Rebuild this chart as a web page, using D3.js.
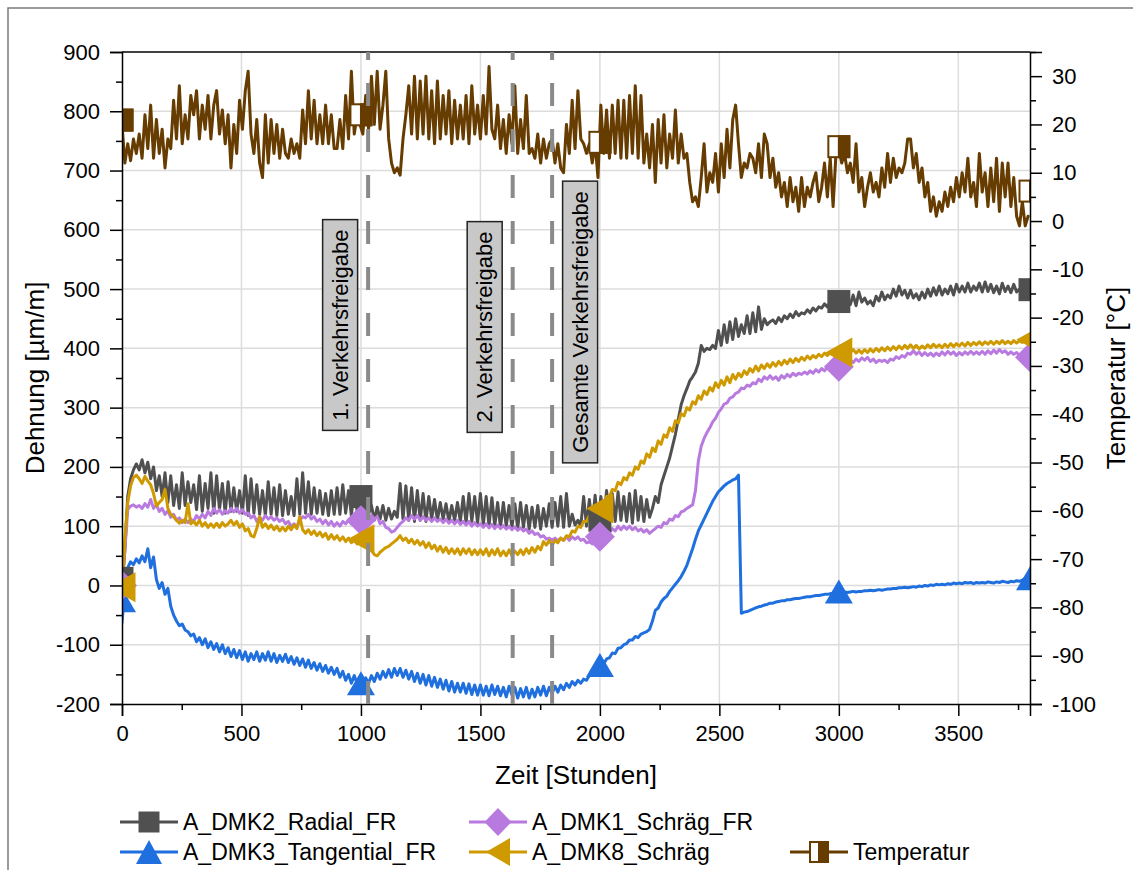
<!DOCTYPE html>
<html lang="de">
<head>
<meta charset="utf-8">
<title>Dehnung und Temperatur über die Zeit</title>
<script src="https://cdn.jsdelivr.net/npm/d3@7/dist/d3.min.js"></script>
<style>
  html, body { margin: 0; padding: 0; background: #fff; }
  svg text { font-family: "Liberation Sans", Arial, Helvetica, sans-serif; fill: #000; }
  .tick-label text { font-size: 22px; }
  .axis-title { font-size: 26px; }
  .legend-text { font-size: 23px; }
  .box-text { font-size: 22px; }
</style>
</head>
<body>
<svg id="chart" width="1133" height="870"></svg>
<script>
// Logged values, one sample every 12 hours starting at hour 0
const sampleStep = 12;

// Dehnung A_DMK2_Radial_FR [µm/m]
const dmk2Radial = [
  -5,60,150,180,195,205,195,212,190,208,180,200,160,185,150,190,140,185,135,170,130,190,135,175,140,
  170,128,185,125,172,130,190,122,185,128,172,122,175,125,165,125,160,122,185,118,180,122,170,120,160,
  118,175,120,165,118,170,118,160,120,150,118,180,120,190,122,175,120,165,122,160,120,155,118,160,120,
  165,120,170,122,160,118,165,125,150,140,130,120,135,110,132,112,135,110,130,112,125,115,172,112,168,
  110,165,108,160,110,155,108,150,112,145,110,140,112,138,108,135,110,140,108,150,105,155,108,150,105,
  155,102,150,100,148,100,140,98,140,100,135,98,138,96,140,98,135,95,132,98,135,95,130,100,138,
  98,140,100,150,98,155,100,120,102,110,100,150,100,145,102,152,105,150,108,160,110,155,108,158,110,
  150,108,155,105,160,110,150,108,145,115,130,150,140,170,185,200,215,235,255,280,305,320,332,345,352,
  360,375,405,395,400,398,405,400,430,405,440,410,445,415,450,420,440,425,455,425,460,428,470,432,450,
  440,445,448,442,452,445,455,450,458,452,462,455,460,458,465,460,468,463,470,468,475,470,478,475,478,
  480,478,472,485,474,490,472,495,478,485,475,480,472,488,480,495,482,490,485,500,488,505,490,498,485,
  498,485,492,482,495,485,500,488,502,490,505,490,500,492,505,490,508,495,505,495,510,495,505,498,510,
  495,512,496,508,494,505,492,510,496,505,494,508,495,500,492,497,495
];

// Dehnung A_DMK3_Tangential_FR [µm/m]
const dmk3Tangential = [
  -63,-5,30,40,35,45,38,50,40,62,30,48,10,-5,5,-15,-5,-35,-50,-60,-68,-65,-75,-78,-85,
  -82,-95,-88,-100,-90,-105,-95,-108,-98,-112,-100,-115,-105,-120,-108,-122,-110,-125,-112,-128,-115,-125,-112,-128,-115,
  -126,-112,-128,-115,-130,-118,-128,-116,-130,-120,-133,-122,-135,-124,-138,-126,-140,-130,-143,-132,-145,-135,-148,-138,-150,
  -140,-155,-145,-160,-150,-165,-152,-166,-155,-168,-156,-165,-152,-162,-148,-158,-145,-155,-142,-155,-140,-152,-140,-155,-143,
  -158,-145,-162,-148,-165,-150,-168,-152,-170,-155,-172,-158,-175,-160,-178,-162,-180,-165,-180,-165,-182,-166,-184,-168,-185,
  -168,-185,-170,-186,-168,-184,-170,-186,-172,-188,-170,-185,-172,-190,-174,-188,-172,-190,-175,-188,-172,-185,-170,-186,-172,
  -182,-170,-180,-168,-176,-165,-172,-162,-168,-160,-165,-158,-160,-152,-150,-142,-140,-130,-132,-124,-122,-114,-115,-106,-105,
  -100,-98,-92,-92,-86,-88,-82,-80,-78,-74,-60,-42,-38,-28,-22,-18,-10,-4,2,8,15,24,34,48,62,
  78,92,102,112,122,132,142,150,158,163,168,172,175,178,180,186,-47,-45,-44,-42,-40,-38,-36,-35,-33,
  -32,-30,-30,-28,-27,-26,-26,-24,-24,-23,-22,-22,-21,-20,-19,-19,-18,-17,-17,-16,-15,-15,-14,-13,-13,
  -12,-12,-11,-12,-11,-10,-11,-10,-10,-9,-9,-8,-9,-8,-7,-8,-7,-6,-6,-5,-5,-4,-4,-3,-4,
  -3,-2,-3,-1,-2,0,-1,1,0,2,1,2,1,3,2,4,3,4,3,5,4,5,3,5,4,
  5,4,6,5,4,6,5,7,6,5,7,6,8,7,9,12,14
];

// Dehnung A_DMK1_Schräg_FR [µm/m]
const dmk1Schraeg = [
  0,60,128,134,136,132,135,130,138,132,145,130,136,125,130,120,126,115,120,110,114,106,112,106,112,
  108,118,112,120,114,125,118,130,122,128,120,126,122,130,124,130,122,128,120,122,114,118,108,115,110,
  118,112,116,110,114,108,112,104,108,100,104,98,110,116,114,120,112,116,108,112,104,110,102,108,100,
  106,100,108,104,110,104,112,106,112,108,115,110,118,112,116,104,108,98,96,90,92,98,104,108,114,
  110,118,112,118,110,116,110,114,108,114,108,112,106,112,105,110,104,110,103,108,102,108,100,106,100,
  104,98,104,97,103,96,102,96,101,95,100,94,99,93,97,92,95,88,92,86,88,82,84,78,80,
  76,80,75,80,76,82,76,82,78,82,76,78,72,74,70,76,78,84,88,92,88,96,92,100,94,
  100,95,100,94,98,92,95,90,94,88,92,96,100,98,106,104,112,110,118,116,124,126,130,133,136,
  160,210,235,248,258,266,276,282,292,298,306,308,316,318,324,326,333,332,338,336,342,340,348,344,352,
  348,354,348,352,346,354,350,356,352,358,354,358,356,360,357,362,358,364,360,366,362,368,365,370,368,
  372,370,376,372,380,376,382,378,384,380,385,378,382,376,380,378,380,376,382,380,386,383,388,385,392,
  390,396,390,394,388,393,388,392,387,392,388,394,389,395,390,394,388,393,389,394,390,395,390,394,390,
  395,390,396,391,397,392,398,393,396,390,394,390,393,388,390,386,386
];

// Dehnung A_DMK8_Schräg [µm/m]
const dmk8Schraeg = [
  -20,80,140,168,182,186,180,172,184,176,170,155,134,140,145,162,130,120,116,110,105,110,106,138,104,
  108,102,110,100,106,98,104,98,105,98,106,100,104,110,102,108,98,104,92,96,84,82,96,116,98,
  104,96,102,94,100,92,98,92,100,94,102,96,116,94,88,94,86,92,84,90,82,88,78,86,78,
  84,76,82,74,80,72,78,70,76,68,72,62,60,52,50,56,60,64,66,70,74,78,84,76,80,
  72,78,70,76,68,74,64,72,62,68,58,66,56,64,54,62,54,62,52,62,54,62,52,60,52,
  60,52,62,50,60,52,62,50,58,50,60,50,58,52,60,52,62,54,64,56,66,60,74,68,76,
  68,76,72,80,76,84,82,92,90,100,98,108,108,118,118,128,128,138,138,150,150,162,160,174,170,
  182,178,190,186,200,196,210,206,222,216,232,226,244,238,254,250,266,260,278,274,290,286,300,296,310,
  306,320,314,328,322,334,328,342,334,346,338,352,342,356,348,358,352,362,356,366,360,370,362,372,366,
  374,368,376,370,378,372,380,374,382,376,383,378,385,380,387,382,388,384,390,386,392,388,393,390,395,
  392,396,392,398,393,398,392,397,392,398,393,399,394,400,395,401,396,402,397,403,398,404,399,405,400,
  406,400,405,399,404,400,406,401,407,402,406,401,407,402,408,403,408,404,409,404,410,405,410,406,411,
  406,411,407,412,407,412,408,413,408,412,408,413,409,413,410,414,412
];

// Lufttemperatur [°C]
const temperatur = [
  20,12,16,12.5,17,14,18,13,22,15,24,13,21,14,19,11,17,15,25,17,28,16,22,17,26,
  22,27,17,24,19,26,17,24,27,18,23,16,22,11,20,14,25,19,27,31,18,14,21,12,9,
  22,12,21,14,20,13,19,14,13,17,14,16,13,23,16,27,17,25,16,22,16,24,16,22,15,
  15,21,15,26,17,31,18,22,20,18,26,19,30,20,31,19,24,31,17,12,10,11,9.5,17,22,
  28,18,30,17,29,18,30,17,27,16,29,17,26,18,27,16,25,17,24,17,26,16,28,18,24,
  17,26,18,32,19,17,24,15,21,14,22,16,28,14,21,15,26,14,15,13,18,12,17,13,16,
  17,12,16,11,10,20,14,25,15,27,17,16,14,16,12,16,9,24,14,23,13,24,14,25,13,
  25,13,26,14,28,13,26,12,18,11,20,8,21,12,22,11,18,13,23,12,18,13,14,8,4,
  5,3,9,16,6,10,8,14,6,16,9,19,11,21,24,16,9,12,11,14,13,10,16,9,18,
  16,9,13,7,10,5,8,3,9,4,7,2,9,3,7,5,8,10,4,7,12,5,13,3,14,
  15,12,14,10,12,8,16,6,9,3,7,10,6,8,5,11,7,14,8,13,9,11,10,12,17,
  17,11,14,8,11,5,8,2,5,1,4,2,6,3,7,4,9,5,10,6,13,5,8,3,14,
  6,10,3,11,4,13,2,12,5,12,3,9,1,-1,4,-1,1
];

// Symbol positions along each curve
const markerHours = [0, 1000, 2000, 3000, 3800];
const dmk2Markers = [12, 150, 110, 479, 499];
const dmk3Markers = [-25, -165, -134, -10, 12];
const dmk1Markers = [0, 110, 82, 369, 385];
const dmk8Markers = [-3, 78, 130, 393, 415];
const temperaturMarkers = [20.9, 22, 16.3, 15.4, 6.2];

// Traffic release events
const releaseHours = [1030, 1635, 1800];
const releaseLabels = ["1. Verkehrsfreigabe", "2. Verkehrsfreigabe", "Gesamte Verkehrsfreigabe"];

// Axis ticks
const xTicks = [0, 500, 1000, 1500, 2000, 2500, 3000, 3500];
const leftTicks = [-200, -100, 0, 100, 200, 300, 400, 500, 600, 700, 800, 900];
const rightTicks = [-100, -90, -80, -70, -60, -50, -40, -30, -20, -10, 0, 10, 20, 30];

// ---------------------------------------------------------------------------
const svg = d3.select("#chart");
const plot = { left: 122, right: 1030, top: 52, bottom: 704 };

const x = d3.scaleLinear().domain([0, 3800]).range([plot.left, plot.right]);
const yL = d3.scaleLinear().domain([-200, 900]).range([plot.bottom, plot.top]);
const yR = d3.scaleLinear().domain([-100, 35]).range([plot.bottom, plot.top]);

const series = [
  { name: "A_DMK2_Radial_FR",      values: dmk2Radial,     marks: dmk2Markers,       color: "#505050", symbol: "square",       y: yL },
  { name: "A_DMK3_Tangential_FR",  values: dmk3Tangential, marks: dmk3Markers,       color: "#1f6fde", symbol: "triangleUp",   y: yL },
  { name: "A_DMK1_Schräg_FR",      values: dmk1Schraeg,    marks: dmk1Markers,       color: "#b97ae0", symbol: "diamond",      y: yL },
  { name: "A_DMK8_Schräg",         values: dmk8Schraeg,    marks: dmk8Markers,       color: "#cf9900", symbol: "triangleLeft", y: yL },
  { name: "Temperatur",            values: temperatur,     marks: temperaturMarkers, color: "#663c00", symbol: "halfSquare",   y: yR }
];

const plotSize = { square: [23, 23], triangleUp: [28, 24], diamond: [30, 30], triangleLeft: [27, 30], halfSquare: [21, 21] };
const legendSize = { square: [21, 21], triangleUp: [26, 24], diamond: [27, 28], triangleLeft: [24, 28], halfSquare: [18, 20] };

function drawSymbol(g, type, color, w, h) {
  if (type === "halfSquare") {
    g.append("rect").attr("x", -w / 2).attr("y", -h / 2).attr("width", w).attr("height", h)
      .attr("fill", "#fff").attr("stroke", color).attr("stroke-width", 2);
    g.append("rect").attr("x", 0).attr("y", -h / 2).attr("width", w / 2).attr("height", h)
      .attr("fill", color).attr("stroke", color).attr("stroke-width", 2);
    return;
  }
  let d;
  if (type === "square") d = `M${-w / 2},${-h / 2}h${w}v${h}h${-w}Z`;
  else if (type === "triangleUp") d = `M0,${-h / 2}L${w / 2},${h / 2}L${-w / 2},${h / 2}Z`;
  else if (type === "diamond") d = `M0,${-h / 2}L${w / 2},0L0,${h / 2}L${-w / 2},0Z`;
  else d = `M${-w / 2},0L${w / 2},${-h / 2}L${w / 2},${h / 2}Z`;
  g.append("path").attr("d", d).attr("fill", color);
}

// Outer page frame
svg.append("path").attr("d", "M8,870V8H1133").attr("fill", "none").attr("stroke", "#7a7a7a").attr("stroke-width", 1.5);

// Clip region for the plot area
svg.append("defs").append("clipPath").attr("id", "plot-clip")
  .append("rect").attr("x", plot.left).attr("y", plot.top)
  .attr("width", plot.right - plot.left).attr("height", plot.bottom - plot.top);

// Grid
const grid = svg.append("g").attr("stroke", "#dcdcdc").attr("stroke-width", 1.5);
grid.selectAll(".gv").data(xTicks.filter(d => d > 0)).join("line")
  .attr("x1", d => x(d)).attr("x2", d => x(d)).attr("y1", plot.top).attr("y2", plot.bottom);
grid.selectAll(".gh").data(leftTicks.filter(d => d > -200 && d < 900)).join("line")
  .attr("y1", d => yL(d)).attr("y2", d => yL(d)).attr("x1", plot.left).attr("x2", plot.right);

// Data curves with their symbols
const dataLayer = svg.append("g").attr("clip-path", "url(#plot-clip)");
series.forEach(s => {
  const pts = s.values.map((v, i) => [i * sampleStep, v]);
  const line = d3.line().x(d => x(d[0])).y(d => s.y(d[1]));
  dataLayer.append("path").datum(pts).attr("d", line)
    .attr("fill", "none").attr("stroke", s.color).attr("stroke-width", 3)
    .attr("stroke-linejoin", "round").attr("stroke-linecap", "round");
});
series.forEach(s => {
  const [w, h] = plotSize[s.symbol];
  markerHours.forEach((hr, i) => {
    const g = dataLayer.append("g").attr("transform", `translate(${x(hr)},${s.y(s.marks[i])})`);
    drawSymbol(g, s.symbol, s.color, w, h);
  });
});

// Axes
function styleAxis(g) {
  g.attr("font-family", null).attr("font-size", null);
  g.select(".domain").attr("stroke", "#000").attr("stroke-width", 1.5);
  g.selectAll(".tick line").attr("stroke", "#000").attr("stroke-width", 1.5);
}
const fmt = d => String(d);

svg.append("g").attr("class", "tick-label").attr("transform", `translate(0,${plot.bottom})`)
  .call(d3.axisBottom(x).tickValues(xTicks).tickSize(12).tickPadding(9).tickFormat(fmt)).call(styleAxis);
svg.append("g").attr("transform", `translate(0,${plot.bottom})`)
  .call(d3.axisBottom(x).tickValues(d3.range(250, 3800, 500)).tickSize(6).tickFormat("")).call(styleAxis)
  .select(".domain").remove();

svg.append("g").attr("class", "tick-label").attr("transform", `translate(${plot.left},0)`)
  .call(d3.axisLeft(yL).tickValues(leftTicks).tickSize(12).tickPadding(10).tickFormat(fmt)).call(styleAxis);
svg.append("g").attr("transform", `translate(${plot.left},0)`)
  .call(d3.axisLeft(yL).tickValues(d3.range(-150, 900, 100)).tickSize(6).tickFormat("")).call(styleAxis)
  .select(".domain").remove();

svg.append("g").attr("class", "tick-label").attr("transform", `translate(${plot.right},0)`)
  .call(d3.axisRight(yR).tickValues(rightTicks).tickSize(12).tickPadding(10).tickFormat(fmt)).call(styleAxis);
svg.append("g").attr("transform", `translate(${plot.right},0)`)
  .call(d3.axisRight(yR).tickValues(d3.range(-95, 40, 10)).tickSize(6).tickFormat("")).call(styleAxis)
  .select(".domain").remove();

// Top frame line
svg.append("line").attr("x1", plot.left).attr("x2", plot.right).attr("y1", plot.top).attr("y2", plot.top)
  .attr("stroke", "#000").attr("stroke-width", 1.5);

// Axis titles
svg.append("text").attr("class", "axis-title").attr("text-anchor", "middle").attr("dy", "0.35em")
  .attr("transform", `translate(35,${(plot.top + plot.bottom) / 2}) rotate(-90)`).text("Dehnung [µm/m]");
svg.append("text").attr("class", "axis-title").attr("text-anchor", "middle").attr("dy", "0.35em")
  .attr("transform", `translate(1116,${(plot.top + plot.bottom) / 2}) rotate(-90)`).text("Temperatur [°C]");
svg.append("text").attr("class", "axis-title").attr("text-anchor", "middle").attr("dy", "0.35em")
  .attr("x", (plot.left + plot.right) / 2).attr("y", 775).text("Zeit [Stunden]");

// Release markers: dashed lines with labelled boxes
const boxSide = [-1, -1, 1];
const boxCenterY = [325, 327, 322];
releaseHours.forEach((hr, i) => {
  svg.append("line").attr("x1", x(hr)).attr("x2", x(hr)).attr("y1", plot.bottom).attr("y2", plot.top)
    .attr("stroke", "#8a8a8a").attr("stroke-width", 4).attr("stroke-dasharray", "23,23");
});
releaseHours.forEach((hr, i) => {
  const g = svg.append("g").attr("transform", `translate(${x(hr) + boxSide[i] * 28},${boxCenterY[i]})`);
  const rect = g.append("rect");
  const t = g.append("text").attr("class", "box-text").attr("text-anchor", "middle").attr("dy", "0.35em")
    .attr("transform", "rotate(-90)").text(releaseLabels[i]);
  const len = t.node().getComputedTextLength() + 20;
  rect.attr("x", -17.5).attr("y", -len / 2).attr("width", 35).attr("height", len)
    .attr("fill", "#c8c8c8").attr("stroke", "#222").attr("stroke-width", 1.5);
});

// Legend
const legendItems = [
  { s: 0, col: 0, row: 0 }, { s: 2, col: 1, row: 0 },
  { s: 1, col: 0, row: 1 }, { s: 3, col: 1, row: 1 }, { s: 4, col: 2, row: 1 }
];
const colX = [120, 469, 790];
const rowY = [822, 852];
legendItems.forEach(it => {
  const s = series[it.s];
  const x0 = colX[it.col], y0 = rowY[it.row];
  const g = svg.append("g");
  g.append("line").attr("x1", x0).attr("x2", x0 + 58).attr("y1", y0).attr("y2", y0)
    .attr("stroke", s.color).attr("stroke-width", 3);
  const m = g.append("g").attr("transform", `translate(${x0 + 29},${y0})`);
  const [w, h] = legendSize[s.symbol];
  drawSymbol(m, s.symbol, s.color, w, h);
  g.append("text").attr("class", "legend-text").attr("x", x0 + 63).attr("y", y0).attr("dy", "0.35em").text(s.name);
});
</script>
</body>
</html>
